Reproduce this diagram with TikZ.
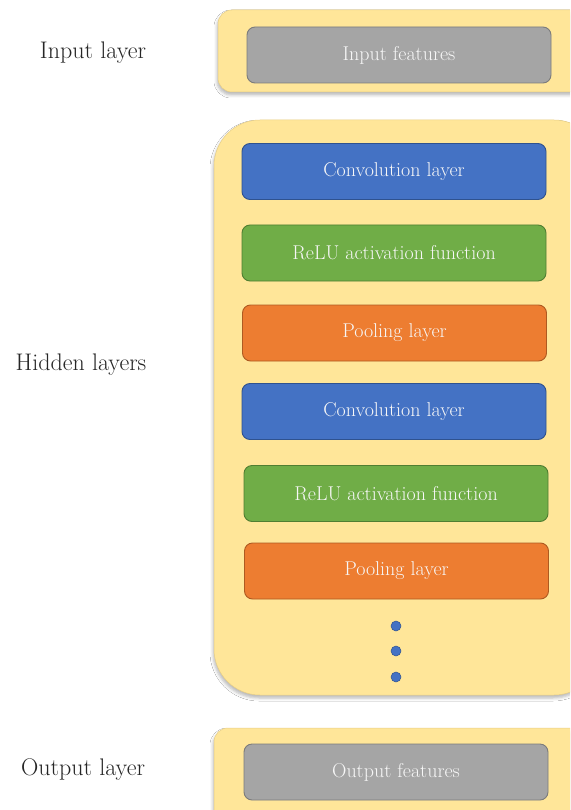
\documentclass[tikz,border=0pt]{standalone}
\usetikzlibrary{shadows.blur}
\definecolor{panel}{HTML}{FFE699}
\definecolor{panelline}{HTML}{E8CF86}
\definecolor{convfill}{HTML}{4472C4}
\definecolor{convline}{HTML}{2F528F}
\definecolor{relufill}{HTML}{70AD47}
\definecolor{reluline}{HTML}{507E32}
\definecolor{poolfill}{HTML}{ED7D31}
\definecolor{poolline}{HTML}{AE5A21}
\definecolor{iofill}{HTML}{A5A5A5}
\definecolor{ioline}{HTML}{7B7B7B}
\definecolor{boxtext}{HTML}{F7F7F7}
\tikzset{
  x=1pt, y=-1pt,
  panelbox/.style={draw=panelline, line width=0.5pt, fill=panel,
    blur shadow={shadow xshift=-1pt, shadow yshift=-3pt, shadow opacity=28, shadow blur radius=3pt}},
  layerbox/.style={rectangle, rounded corners=8pt, line width=0.9pt,
    minimum width=304pt, minimum height=56pt, inner sep=0pt,
    text=boxtext, font=\fontsize{20}{24}\selectfont},
  conv/.style={layerbox, fill=convfill, draw=convline},
  relu/.style={layerbox, fill=relufill, draw=reluline},
  pool/.style={layerbox, fill=poolfill, draw=poolline},
  iobox/.style={layerbox, fill=iofill, draw=ioline},
  sidelabel/.style={font=\fontsize{24}{28}\selectfont, text=black!85, inner sep=0pt},
  dotmark/.style={circle, fill=convfill, draw=convline, line width=0.5pt, minimum size=10pt, inner sep=0pt},
}
\begin{document}
\begin{tikzpicture}
\useasboundingbox (0,0) rectangle (570,810);
\clip (0,0) rectangle (570,810);
\fill[white] (0,0) rectangle (570,810);

% panels
\path[panelbox, rounded corners=14pt] (218,10) rectangle (600,92);
\path[panelbox, rounded corners=46pt] (214,120) rectangle (600,695);
\path[panelbox, rounded corners=14pt] (214,728) rectangle (600,840);

% layer boxes
\node[iobox] (in) at (399,55) {Input features};
\node[conv] (c1) at (394,171.5) {Convolution layer};
\node[relu] (r1) at (394,253) {ReLU activation function};
\node[pool] (p1) at (394.5,333) {Pooling layer};
\node[conv] (c2) at (394,411.5) {Convolution layer};
\node[relu] (r2) at (396,493.5) {ReLU activation function};
\node[pool] (p2) at (396.5,571) {Pooling layer};
\node[iobox] (out) at (396,772) {Output features};

% continuation dots
\node[dotmark] (d1) at (396,626) {};
\node[dotmark] (d2) at (396,651) {};
\node[dotmark] (d3) at (396,677) {};

% side labels
\node[sidelabel] (lin) at (93,53) {Input layer};
\node[sidelabel] (lhid) at (81,365) {Hidden layers};
\node[sidelabel] (lout) at (83,770) {Output layer};
\end{tikzpicture}
\end{document}
